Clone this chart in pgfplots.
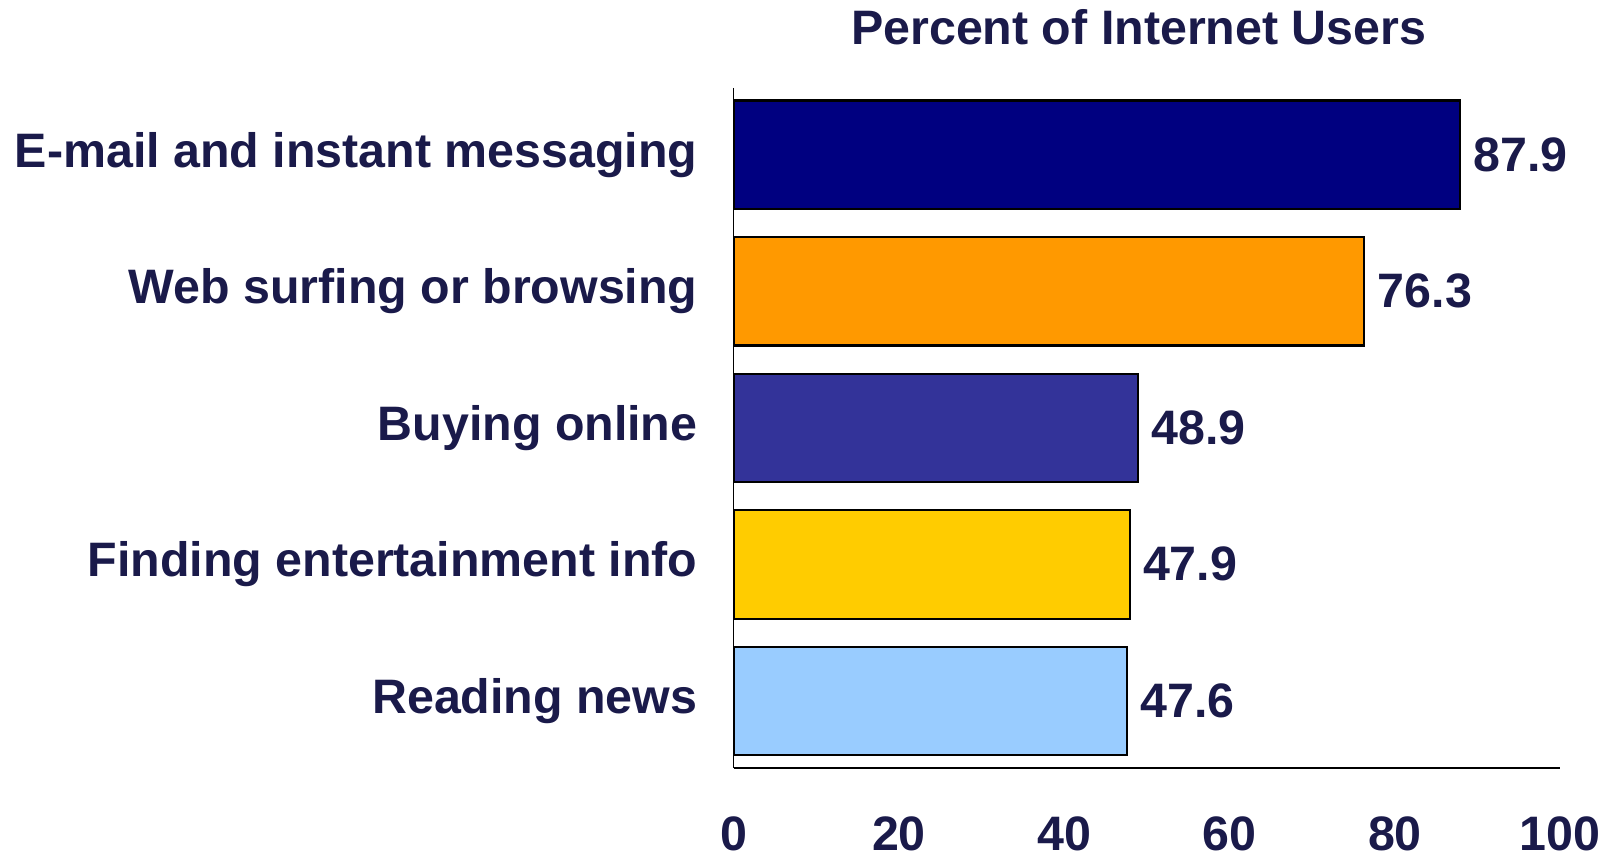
\documentclass[border=0pt]{standalone}
\usepackage{fontspec}
\setmainfont{Liberation Sans}
\usepackage{pgfplots}
\pgfplotsset{compat=1.18}

\definecolor{txt}{RGB}{26,26,74}
\definecolor{c1}{RGB}{0,0,128}
\definecolor{c2}{RGB}{255,153,0}
\definecolor{c3}{RGB}{51,51,153}
\definecolor{c4}{RGB}{255,204,0}
\definecolor{c5}{RGB}{153,204,255}

\begin{document}
\begin{tikzpicture}
\path[use as bounding box] (-355pt,-46pt) rectangle (425pt,371.5pt);
\begin{axis}[
  at={(0,0)}, anchor=south west,
  scale only axis,
  width=400pt, height=329pt,
  xbar, bar width=52.5pt, bar shift=0pt,
  xmin=0, xmax=100,
  ymin=-0.49, ymax=4.49,
  y dir=reverse,
  axis x line=bottom, axis y line=left,
  axis line style={-, line width=0.8pt, black},
  major tick length=0pt,
  xtick={0,20,...,100},
  ytick={0,1,2,3,4},
  yticklabels={E-mail and instant messaging, Web surfing or browsing, Buying online, Finding entertainment info, Reading news},
  /pgf/number format/assume math mode=true,
  ticklabel style={font=\fontsize{23.4}{27}\selectfont\bfseries, text=txt},
  xticklabel style={yshift=-20pt},
  yticklabel style={xshift=-14pt},
  title={Percent of Internet Users},
  title style={font=\fontsize{23.4}{27}\selectfont\bfseries, text=txt, yshift=11pt, xshift=-4pt},
  nodes near coords,
  nodes near coords style={font=\fontsize{23.4}{27}\selectfont\bfseries, text=txt, inner sep=0pt, xshift=6pt, /pgf/number format/.cd, fixed, fixed zerofill, precision=1, assume math mode=true},
  every axis plot/.append style={draw=black, line width=1pt},
]
\addplot[fill=c1] coordinates {(87.9,0)};
\addplot[fill=c2] coordinates {(76.3,1)};
\addplot[fill=c3] coordinates {(48.9,2)};
\addplot[fill=c4] coordinates {(47.9,3)};
\addplot[fill=c5] coordinates {(47.6,4)};
\end{axis}
\end{tikzpicture}
\end{document}
